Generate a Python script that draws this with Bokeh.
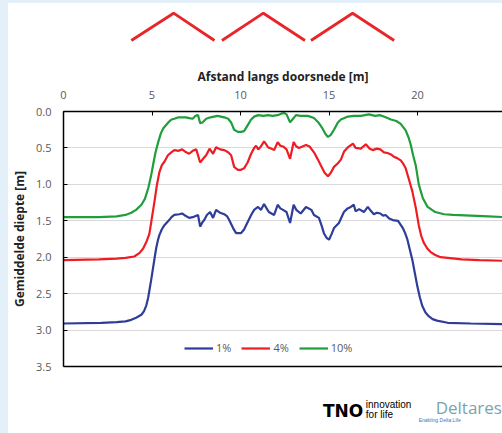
from bokeh.plotting import figure
from bokeh.layouts import column, row
from bokeh.models import (Range1d, LinearAxis, FixedTicker, PrintfTickFormatter,
                          Legend, LegendItem, Label, Spacer)
from bokeh.embed import file_html
from bokeh.resources import INLINE

# ---- data ----
x_1 = [0, 2.14, 3.0, 3.5, 3.83, 4.1, 4.4, 4.55, 4.68, 4.78, 4.85, 4.96, 5.07, 5.16, 5.24,
       5.33, 5.41, 5.55, 5.7, 5.97, 6.1, 6.26, 6.54, 6.7, 6.82, 7.1, 7.3, 7.6, 7.72, 7.85,
       7.95, 8.1, 8.28, 8.45, 8.62, 8.85, 9.08, 9.25, 9.36, 9.58, 9.75, 10.03, 10.2, 10.4,
       10.6, 10.77, 10.99, 11.16, 11.33, 11.45, 11.6, 11.9, 12.1, 12.25, 12.4, 12.6, 12.8,
       13.0, 13.15, 13.4, 13.7, 14.0, 14.15, 14.43, 14.6, 14.71, 14.85, 15.0, 15.15, 15.28,
       15.56, 15.84, 16.05, 16.23, 16.4, 16.5, 16.7, 16.97, 17.19, 17.35, 17.53, 17.7, 17.9,
       18.05, 18.2, 18.4, 18.6, 18.9, 19.17, 19.3, 19.43, 19.57, 19.71, 19.85, 19.99, 20.13,
       20.27, 20.45, 20.63, 20.85, 21.1, 21.7, 23.0, 25.0]
d_1 = [2.91, 2.90, 2.89, 2.88, 2.86, 2.83, 2.79, 2.74, 2.66, 2.56, 2.46, 2.30, 2.13, 1.99, 1.87,
       1.77, 1.70, 1.62, 1.56, 1.49, 1.45, 1.42, 1.41, 1.40, 1.42, 1.46, 1.45, 1.42, 1.58, 1.52,
       1.49, 1.42, 1.38, 1.46, 1.35, 1.39, 1.41, 1.44, 1.49, 1.60, 1.67, 1.67, 1.62, 1.52,
       1.42, 1.35, 1.31, 1.35, 1.27, 1.32, 1.38, 1.42, 1.28, 1.33, 1.35, 1.38, 1.53,
       1.28, 1.35, 1.40, 1.31, 1.35, 1.42, 1.46, 1.58, 1.67, 1.73, 1.76, 1.68, 1.60,
       1.53, 1.38, 1.33, 1.31, 1.28, 1.37, 1.34, 1.38, 1.31, 1.36, 1.41, 1.39, 1.40,
       1.43, 1.42, 1.47, 1.49, 1.50, 1.60, 1.67, 1.76, 1.90, 2.04, 2.22, 2.40, 2.55,
       2.67, 2.76, 2.81, 2.85, 2.87, 2.90, 2.91, 2.92]

x_4 = [0, 2, 3, 3.5, 4.0, 4.3, 4.5, 4.7, 4.85, 5.0, 5.13, 5.27, 5.41, 5.55, 5.7, 5.9, 6.09,
       6.26, 6.5, 6.7, 6.93, 7.1, 7.3, 7.5, 7.72, 7.85, 8.06, 8.25, 8.45, 8.62, 8.85, 9.08,
       9.3, 9.47, 9.64, 9.85, 10.03, 10.2, 10.4, 10.6, 10.77, 10.88, 11.0, 11.15, 11.33,
       11.45, 11.55, 11.75, 11.9, 12.1, 12.25, 12.4, 12.6, 12.8, 13.0, 13.15, 13.3, 13.5,
       13.7, 13.9, 14.15, 14.35, 14.54, 14.75, 14.94, 15.1, 15.28, 15.5, 15.67, 15.85,
       16.07, 16.25, 16.35, 16.5, 16.8, 17.08, 17.3, 17.47, 17.7, 17.9, 18.1, 18.3, 18.5,
       18.66, 18.85, 19.05, 19.2, 19.33, 19.5, 19.71, 19.9, 20.07, 20.2, 20.35, 20.55,
       20.74, 21.0, 21.3, 21.7, 22.5, 23.5, 25.0]
d_4 = [2.04, 2.03, 2.02, 2.01, 1.99, 1.94, 1.88, 1.78, 1.68, 1.45, 1.25, 1.02, 0.84, 0.74, 0.69,
       0.60, 0.56, 0.53, 0.54, 0.52, 0.56, 0.58, 0.54, 0.52, 0.70, 0.66, 0.60, 0.51, 0.58,
       0.49, 0.52, 0.53, 0.56, 0.60, 0.76, 0.80, 0.80, 0.78, 0.70, 0.58, 0.50, 0.47, 0.52,
       0.48, 0.41, 0.45, 0.49, 0.51, 0.53, 0.42, 0.47, 0.48, 0.52, 0.65, 0.42, 0.48, 0.50,
       0.48, 0.46, 0.48, 0.56, 0.65, 0.74, 0.84, 0.89, 0.84, 0.76, 0.71, 0.66, 0.55,
       0.49, 0.46, 0.44, 0.50, 0.51, 0.45, 0.51, 0.53, 0.51, 0.52, 0.56, 0.57, 0.59,
       0.62, 0.64, 0.67, 0.72, 0.78, 0.92, 1.10, 1.32, 1.56, 1.70, 1.80, 1.88,
       1.93, 1.97, 2.00, 2.01, 2.03, 2.04, 2.05]

x_10 = [0, 2, 3, 3.5, 3.83, 4.1, 4.4, 4.6, 4.79, 4.95, 5.07, 5.2, 5.35, 5.5, 5.64, 5.92, 6.1,
        6.26, 6.5, 6.9, 7.1, 7.3, 7.45, 7.6, 7.72, 7.85, 8.06, 8.3, 8.5, 8.7, 9.08, 9.3,
        9.47, 9.64, 9.85, 10.03, 10.2, 10.4, 10.6, 10.77, 11.0, 11.3, 11.55, 11.8, 12.1,
        12.3, 12.46, 12.6, 12.8, 13.0, 13.13, 13.4, 13.8, 14.15, 14.4, 14.6, 14.8, 14.94,
        15.1, 15.28, 15.5, 15.67, 16.07, 16.4, 16.8, 17.25, 17.6, 17.9, 18.2, 18.5, 18.8,
        19.05, 19.33, 19.5, 19.62, 19.75, 19.9, 20.07, 20.3, 20.57, 21.0, 21.5, 22.0, 23.0,
        24.0, 25.0]
d_10 = [1.45, 1.45, 1.44, 1.42, 1.39, 1.35, 1.28, 1.20, 1.05, 0.88, 0.72, 0.56, 0.42, 0.30,
        0.23, 0.15, 0.11, 0.10, 0.08, 0.08, 0.09, 0.10, 0.06, 0.05, 0.16, 0.15, 0.10, 0.08,
        0.07, 0.06, 0.08, 0.10, 0.15, 0.25, 0.28, 0.28, 0.27, 0.19, 0.11, 0.07, 0.05, 0.06,
        0.05, 0.06, 0.05, 0.03, 0.02, 0.04, 0.15, 0.09, 0.05, 0.06, 0.06, 0.09, 0.15, 0.22,
        0.31, 0.35, 0.32, 0.25, 0.15, 0.11, 0.07, 0.06, 0.06, 0.04, 0.06, 0.05, 0.08, 0.11,
        0.13, 0.17, 0.26, 0.36, 0.46, 0.60, 0.74, 1.00, 1.19, 1.31, 1.38, 1.41, 1.42, 1.43,
        1.44, 1.45]

series_names = ["1%", "4%", "10%"]
x_ticks = [0, 5, 10, 15, 20, 25]
y_ticks = [0.0, 0.5, 1.0, 1.5, 2.0, 2.5, 3.0, 3.5]

# roofs of the houses (decoration above the chart)
roof_x = [[3.83, 6.22, 8.53], [8.95, 11.29, 13.64], [13.98, 16.33, 18.68]]
roof_y = [[0, 1, 0], [0, 1, 0], [0, 1, 0]]

FONT = "Open Sans"
colors = ["#2e3d98", "#ee1d23", "#1f9e3b"]
BG = {"background-color": "#e3f0fa"}

W = 494
xr = Range1d(0, 24.8)

# ---- roof figure ----
top = figure(width=W, height=55, x_range=xr, y_range=Range1d(-0.659, 1.3555),
             x_axis_type=None, y_axis_type=None,
             output_backend="svg", toolbar_location=None,
             min_border_left=54, min_border_right=0, min_border_top=0, min_border_bottom=0)
top.grid.visible = False
top.outline_line_color = None
top.multi_line(xs=roof_x, ys=roof_y, line_color="#e8262a", line_width=2.8)

# ---- main figure ----
p = figure(width=W, height=314, x_range=xr, y_range=Range1d(3.5, 0),
           x_axis_location="above", output_backend="svg", toolbar_location=None,
           min_border_left=54, min_border_right=0, min_border_top=53, min_border_bottom=5)
p.outline_line_color = None
p.background_fill_color = "white"
p.border_fill_color = "white"

rs = []
for xs, ds, c in zip([x_1, x_4, x_10], [d_1, d_4, d_10], colors):
    rs.append(p.line(xs, ds, line_color=c, line_width=2.2))

xa = p.xaxis[0]
xa.ticker = FixedTicker(ticks=x_ticks)
xa.axis_label = "Afstand langs doorsnede [m]"
xa.axis_label_text_font = FONT
xa.axis_label_text_font_style = "bold"
xa.axis_label_text_font_size = "12px"
xa.axis_label_text_color = "#222222"
xa.axis_label_standoff = 3
xa.major_label_text_font = FONT
xa.major_label_text_font_size = "11px"
xa.major_label_text_color = "#595959"
xa.major_label_standoff = 13
xa.axis_line_color = "black"
xa.axis_line_width = 1.5
xa.major_tick_in = 4
xa.major_tick_out = 0
xa.major_tick_line_color = "black"
xa.minor_tick_line_color = None

ya = p.yaxis[0]
ya.ticker = FixedTicker(ticks=y_ticks)
ya.formatter = PrintfTickFormatter(format="%.1f")
ya.axis_label = "Gemiddelde diepte [m]"
ya.axis_label_text_font = FONT
ya.axis_label_text_font_style = "bold"
ya.axis_label_text_font_size = "12px"
ya.axis_label_text_color = "#222222"
ya.axis_label_standoff = 5
ya.major_label_text_font = FONT
ya.major_label_text_font_size = "11px"
ya.major_label_text_color = "#595959"
ya.major_label_standoff = 12
ya.axis_line_color = "black"
ya.axis_line_width = 1.5
ya.major_tick_in = 4
ya.major_tick_out = 0
ya.major_tick_line_color = "black"
ya.minor_tick_line_color = None

bottom_axis = LinearAxis(axis_line_color="black", axis_line_width=1.5,
                         major_tick_line_color=None, minor_tick_line_color=None,
                         major_label_text_font_size="0px", major_label_text_color=None)
p.add_layout(bottom_axis, "below")

p.xgrid.visible = False
p.ygrid.ticker = FixedTicker(ticks=y_ticks)
p.ygrid.grid_line_color = "#d9d9d9"
p.ygrid.grid_line_width = 1

legend = Legend(items=[LegendItem(label=n, renderers=[r]) for n, r in zip(series_names, rs)],
                orientation="horizontal", location=(121, 11),
                background_fill_alpha=0, border_line_color=None,
                padding=0, margin=0, spacing=10, glyph_width=29, glyph_height=12,
                label_height=12, label_width=0, label_standoff=3,
                label_text_font=FONT, label_text_font_size="11px",
                label_text_color="#595959")
p.add_layout(legend, "center")

# ---- logo strip (text), x in window pixels (frame aligned with main chart) ----
LH = 61
logo = figure(width=W, height=LH, x_range=Range1d(62, 502), y_range=Range1d(0, LH),
              x_axis_type=None, y_axis_type=None,
              output_backend="svg", toolbar_location=None,
              min_border_left=54, min_border_right=0, min_border_top=0, min_border_bottom=0)
logo.grid.visible = False
logo.outline_line_color = None

logo_labels = [
    dict(x=322, y=23, text="TNO", text_font="DejaVu Sans", text_font_style="bold",
         text_font_size="17px", text_color="black"),
    dict(x=365, y=29, text="innovation", text_font="Liberation Sans",
         text_font_size="10px", text_color="black"),
    dict(x=365, y=19, text="for life", text_font="Liberation Sans",
         text_font_size="10px", text_color="black"),
    dict(x=435, y=26, text="Deltares", text_font=FONT,
         text_font_size="17px", text_color="#7aa3ad"),
    dict(x=418, y=14, text="Enabling Delta Life", text_font="Liberation Sans",
         text_font_size="5px", text_color="#3d75b5"),
]
for lab in logo_labels:
    logo.add_layout(Label(text_baseline="alphabetic", **lab))

layout = row(Spacer(width=8, height=433, styles=BG),
             column(Spacer(width=W, height=3, styles=BG), top, p, logo))
open("out.html", "w").write(file_html(layout, INLINE))
